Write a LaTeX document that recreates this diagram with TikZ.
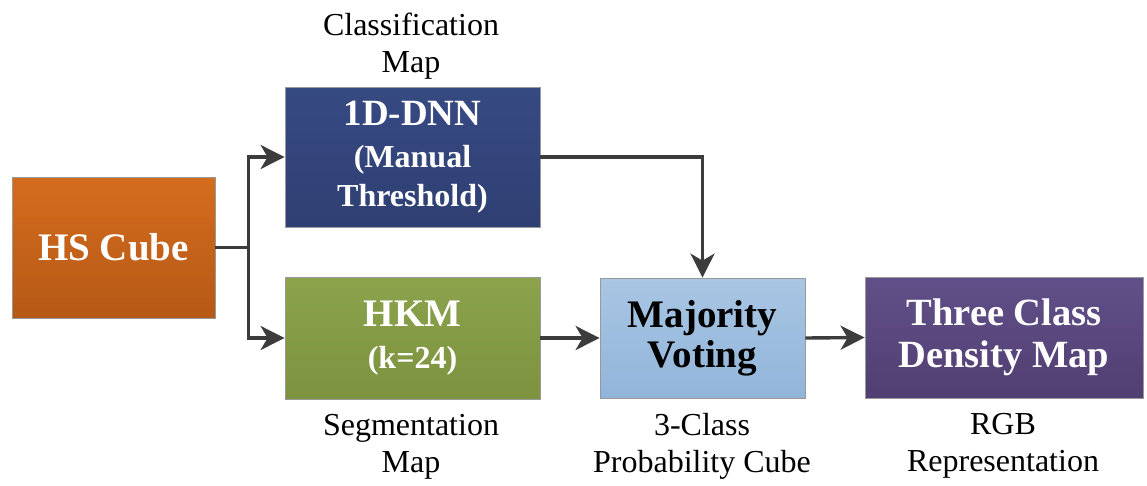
\documentclass[tikz,border=0pt]{standalone}
\usepackage{fontspec}
\setmainfont{Liberation Serif}
\usetikzlibrary{arrows.meta}
\definecolor{cubeTop}{HTML}{D46C1D}
\definecolor{cubeBot}{HTML}{B65916}
\definecolor{dnnTop}{HTML}{364A82}
\definecolor{dnnBot}{HTML}{2F3F73}
\definecolor{hkmTop}{HTML}{8CA34C}
\definecolor{hkmBot}{HTML}{7C923F}
\definecolor{voteTop}{HTML}{A9C6E3}
\definecolor{voteBot}{HTML}{91B5DA}
\definecolor{densTop}{HTML}{614F89}
\definecolor{densBot}{HTML}{513F72}
\definecolor{wire}{HTML}{3C3C3C}
\begin{document}
\begin{tikzpicture}[x=1pt, y=-1pt,
	box/.style = {draw = gray!80, line width = .8pt, inner sep = 0pt, align = center},
	wirestyle/.style = {draw = wire, line width = 3.4pt},
	arr/.style = {wirestyle, -{Stealth[length = 24pt, width = 24pt, inset = 7pt]}},
	lbl/.style = {align = center, font = \fontsize{32}{37}\selectfont}]
		\useasboundingbox (0, 0) rectangle (1147, 485);
		\node[box, top color = cubeTop, bottom color = cubeBot, text = white, minimum width = 203, minimum height = 141,
			font = \bfseries\fontsize{39}{44}\selectfont] (cube) at (113.5, 247.5) {HS Cube};
		\node[box, top color = dnnTop, bottom color = dnnBot, text = white, minimum width = 255, minimum height = 140,
			font = \bfseries\fontsize{32}{39}\selectfont] (dnn) at (412.5, 157) {{\fontsize{37}{39}\selectfont 1D-DNN}\\[3pt] (Manual\\Threshold)};
		\node[box, top color = hkmTop, bottom color = hkmBot, text = white, minimum width = 255, minimum height = 122,
			font = \bfseries\fontsize{32}{42}\selectfont] (hkm) at (412.5, 338) {{\fontsize{39}{42}\selectfont HKM}\\(k=24)};
		\node[box, top color = voteTop, bottom color = voteBot, text = black, minimum width = 205, minimum height = 120,
			font = \bfseries\fontsize{39}{40}\selectfont] (vote) at (702.5, 338) {Majority\\Voting};
		\node[box, top color = densTop, bottom color = densBot, text = white, minimum width = 278, minimum height = 121,
			font = \bfseries\fontsize{38.5}{42}\selectfont] (dens) at (1004, 337.5) {Three Class\\Density Map};
		\foreach \x/\y/\name/\txt in {411/46/cls/{Classification\\Map}, 411/447/seg/{Segmentation\\Map}, 702/446/prob/{3-Class\\Probability Cube}, 1003/446/rgb/{RGB\\Representation}}{
			\node[lbl] (lbl\name) at (\x, \y) {\txt};}
		\draw[wirestyle] (cube.east) -- ++(33, 0) coordinate (split);
		\draw[arr] (split) |- (dnn.west);
		\draw[arr] (split) |- (hkm.west);
		\draw[arr] (dnn.east) -| (vote.north);
		\draw[arr] (hkm.east) -- (vote.west);
		\draw[arr] (vote.east) -- (dens.west);
\end{tikzpicture}
\end{document}
